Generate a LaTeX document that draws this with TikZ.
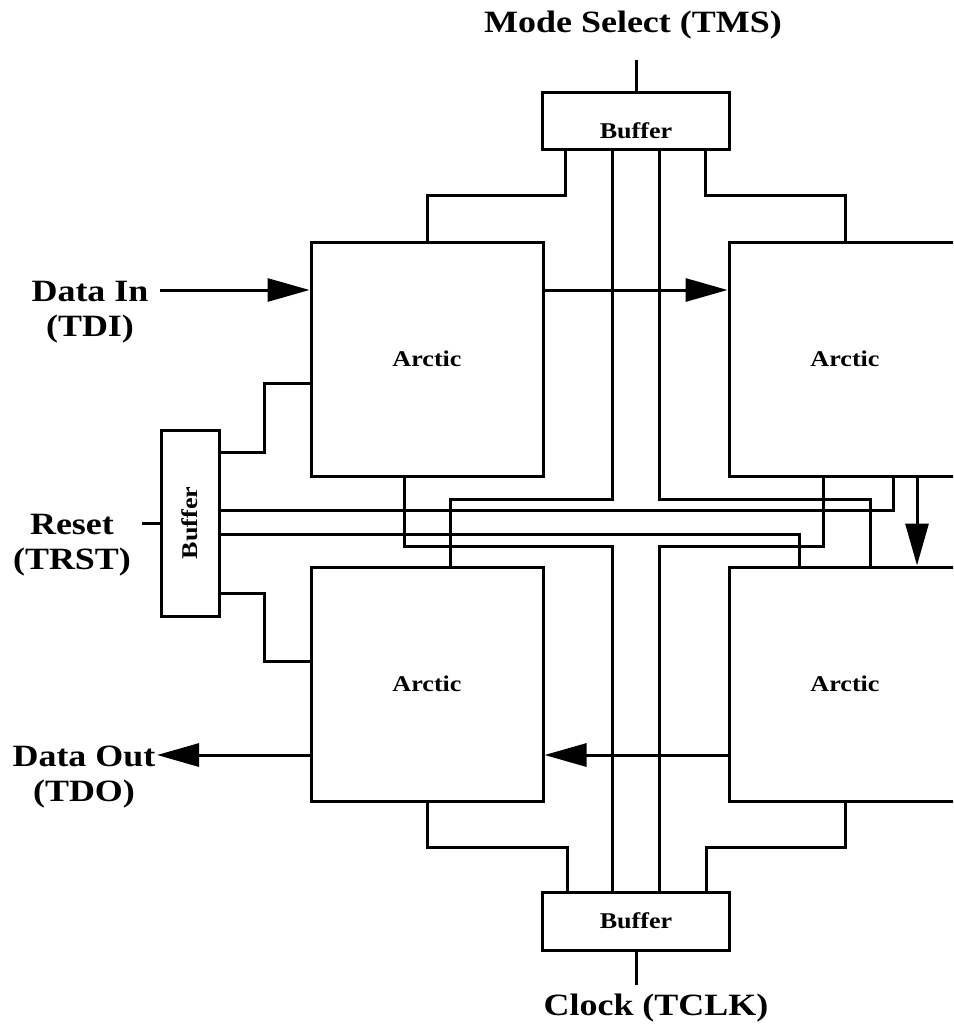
\documentclass[tikz,border=0pt]{standalone}
\usepackage{fontspec}
\setmainfont{Liberation Serif}[FakeStretch=1.16]
\usepackage{tikz}
\usetikzlibrary{arrows.meta,calc}

\begin{document}
\begin{tikzpicture}[x=1pt,y=-1pt,
      wire/.style={line width=3pt},
      sig/.style={wire,-{Triangle[length=42pt,width=23pt]}},
      arctic/.style={draw,line width=3pt,minimum width=232pt,minimum height=234pt,
                     inner sep=0pt,font=\fontsize{22.5}{24}\selectfont\bfseries},
      buf/.style={draw,line width=3pt,inner sep=0pt,
                  font=\fontsize{22.5}{24}\selectfont\bfseries},
      lbl/.style={align=center,font=\fontsize{31}{35}\selectfont\bfseries}]

    \useasboundingbox (0,0) rectangle (953,1027);
    \clip (0,0) rectangle (953,1027);

    % ================= the four chips =================
    \node[arctic] (tl) at (427,359) {Arctic};
    \node[arctic] (tr) at (845,359) {Arctic};
    \node[arctic] (bl) at (427,684) {Arctic};
    \node[arctic] (br) at (845,684) {Arctic};

    % ================= buffers =================
    \node[buf,minimum width=187pt,minimum height=57pt,text depth=0pt] (tms) at (636,121)
      {\raisebox{-18pt}{Buffer}};
    \node[buf,minimum width=187pt,minimum height=58pt] (tck) at (636,921) {Buffer};
    \node[buf,minimum width=58pt,minimum height=186pt] (trst) at (190,523)
      {\rotatebox{90}{Buffer}};

    % ================= outside labels =================
    \node[lbl] (tmsl) at (633,25) {Mode Select (TMS)};
    \node[lbl] (tckl) at (656,1008) {Clock (TCLK)};
    \node[lbl] (dinl) at (90,312) {Data In\\(TDI)};
    \node[lbl] (rstl) at (72,545) {Reset\\(TRST)};
    \node[lbl] (doutl) at (84,777) {Data Out\\(TDO)};

    \coordinate (tmsin) at (636,60);
    \coordinate (tckin) at (636,985);
    \coordinate (rstin) at (142,523);
    \coordinate (din) at (160,290);
    \coordinate (dout) at (157,755);

    \draw[wire] (tmsin) -- (tms.north);
    \draw[wire] (tckin) -- (tck.south);
    \draw[wire] (rstin) -- (trst.west);

    % ================= mode select fan-out =================
    \coordinate (m1) at (565,195);
    \coordinate (m2) at (705,195);
    \coordinate (m3) at (612,499);  \coordinate (m3b) at (450,499);
    \coordinate (m4) at (659,499);  \coordinate (m4b) at (870,499);
    \draw[wire] (tms.south -| m1) -- (m1) -| (tl.north);
    \draw[wire] (tms.south -| m2) -- (m2) -| (tr.north);
    \draw[wire] (tms.south -| m3) -- (m3) -- (m3b) -- (bl.north -| m3b);
    \draw[wire] (tms.south -| m4) -- (m4) -- (m4b) -- (br.north -| m4b);

    % ================= clock fan-out =================
    \coordinate (k1) at (567,847);
    \coordinate (k2) at (706,847);
    \coordinate (k3) at (612,546);  \coordinate (k3b) at (404,546);
    \coordinate (k4) at (659,546);  \coordinate (k4b) at (823,546);
    \draw[wire] (tck.north -| k1) -- (k1) -| (bl.south);
    \draw[wire] (tck.north -| k2) -- (k2) -| (br.south);
    \draw[wire] (tck.north -| k3) -- (k3) -- (k3b) -- (tl.south -| k3b);
    \draw[wire] (tck.north -| k4) -- (k4) -- (k4b) -- (tr.south -| k4b);

    % ================= reset fan-out =================
    \coordinate (r1a) at (264,452);  \coordinate (r1) at (264,383);
    \coordinate (r2a) at (264,593);  \coordinate (r2) at (264,661);
    \coordinate (r3) at (893,510);
    \coordinate (r4) at (799,534);
    \draw[wire] (trst.east |- r1a) -- (r1a) -- (r1) -- (tl.west |- r1);
    \draw[wire] (trst.east |- r2a) -- (r2a) -- (r2) -- (bl.west |- r2);
    \draw[wire] (trst.east |- r3) -- (r3) -- (tr.south -| r3);
    \draw[wire] (trst.east |- r4) -- (r4) -- (br.north -| r4);

    % ================= data chain =================
    \coordinate (dn) at (917,520);
    \draw[sig] (din) -- (tl.west |- din);
    \draw[sig] (tl.east |- din) -- (tr.west |- din);
    \draw[sig] (tr.south -| dn) -- (br.north -| dn);
    \draw[sig] (br.west |- dout) -- (bl.east |- dout);
    \draw[sig] (bl.west |- dout) -- (dout);
  \end{tikzpicture}
\end{document}
